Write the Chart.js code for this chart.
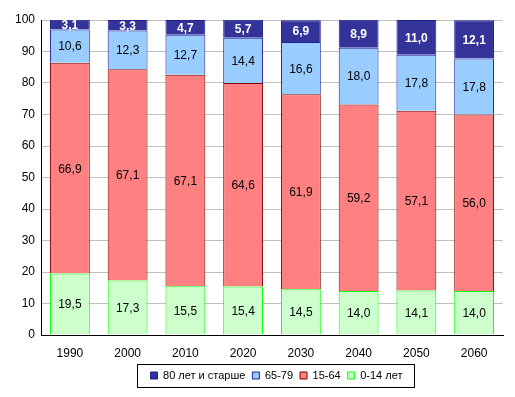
<!DOCTYPE html>
<html lang="ru">
<head>
    <meta charset="UTF-8">
    <title>Возрастная структура</title>
    <style>
        html, body { margin: 0; padding: 0; background: #fff; }
        .chart-box { width: 515px; height: 397px; }
    </style>
</head>
<body>
    <div class="chart-box">
        <canvas id="ageChart"></canvas>
    </div>

    <script src="https://cdn.jsdelivr.net/npm/chart.js"></script>
    <script>
        // Годы
        const years = ['1990', '2000', '2010', '2020', '2030', '2040', '2050', '2060'];

        // Доли возрастных групп, %
        const age0_14 = [19.5, 17.3, 15.5, 15.4, 14.5, 14.0, 14.1, 14.0];
        const age15_64 = [66.9, 67.1, 67.1, 64.6, 61.9, 59.2, 57.1, 56.0];
        const age65_79 = [10.6, 12.3, 12.7, 14.4, 16.6, 18.0, 17.8, 17.8];
        const age80plus = [3.1, 3.3, 4.7, 5.7, 6.9, 8.9, 11.0, 12.1];

        const yTicks = [0, 10, 20, 30, 40, 50, 60, 70, 80, 90, 100];

        const fontFamily = '"Liberation Sans", Arial, sans-serif';

        // Подписи значений в центре каждого сегмента
        const valueLabels = {
            id: 'valueLabels',
            afterDatasetsDraw(chart) {
                const ctx = chart.ctx;
                ctx.save();
                ctx.textAlign = 'center';
                ctx.textBaseline = 'middle';
                chart.data.datasets.forEach((ds, i) => {
                    const meta = chart.getDatasetMeta(i);
                    meta.data.forEach((bar, j) => {
                        const p = bar.getCenterPoint();
                        const top = ds.label === '80 лет и старше';
                        ctx.font = (top ? 'bold ' : '') + '12px ' + fontFamily;
                        ctx.fillStyle = top ? '#ffffff' : '#000000';
                        ctx.fillText(ds.data[j].toFixed(1).replace('.', ','), p.x, p.y + 1);
                    });
                });
                ctx.restore();
            }
        };

        // Легенда смещена вправо и обведена рамкой, как в Excel
        const legendBox = {
            id: 'legendBox',
            afterLayout(chart) {
                chart.legend.left += 25;
                chart.legend.right += 25;
            },
            afterDraw(chart) {
                const boxes = chart.legend.legendHitBoxes;
                if (!boxes || !boxes.length) return;
                const left = Math.min(...boxes.map(b => b.left));
                const right = Math.max(...boxes.map(b => b.left + b.width));
                const cy = boxes[0].top + boxes[0].height / 2;
                const ctx = chart.ctx;
                ctx.save();
                ctx.strokeStyle = '#000';
                ctx.lineWidth = 1;
                ctx.strokeRect(Math.round(left - 14) + 0.5, Math.round(cy - 12) + 0.5,
                    Math.round(right - left + 25), 23);
                ctx.restore();
            }
        };

        const ageChart = new Chart(document.getElementById('ageChart'), {
            type: 'bar',
            data: {
                labels: years,
                datasets: [{
                    label: '0-14 лет',
                    data: age0_14,
                    backgroundColor: '#ccffcc',
                    borderColor: '#00ff00',
                    borderWidth: 1
                }, {
                    label: '15-64',
                    data: age15_64,
                    backgroundColor: '#ff8080',
                    borderColor: '#800000',
                    borderWidth: 1
                }, {
                    label: '65-79',
                    data: age65_79,
                    backgroundColor: '#99ccff',
                    borderColor: '#1f1f9f',
                    borderWidth: 1
                }, {
                    label: '80 лет и старше',
                    data: age80plus,
                    backgroundColor: '#333399',
                    borderColor: '#1f1f8f',
                    borderWidth: 1
                }]
            },
            options: {
                responsive: true,
                maintainAspectRatio: false,
                animation: false,
                layout: { padding: { top: 20, right: 12, bottom: 6, left: 0 } },
                datasets: {
                    bar: { categoryPercentage: 1, barPercentage: 0.69 }
                },
                scales: {
                    x: {
                        stacked: true,
                        grid: { display: false, drawTicks: false },
                        border: { color: '#000', width: 1 },
                        ticks: { color: '#000', padding: 11, font: { family: fontFamily, size: 12 } },
                        afterFit(scale) { scale.height = 28; }
                    },
                    y: {
                        stacked: true,
                        min: 0,
                        max: 100,
                        afterBuildTicks(scale) { scale.ticks = yTicks.map(v => ({ value: v })); },
                        grid: { color: '#c0c0c0', drawTicks: false },
                        border: { color: '#000', width: 1 },
                        ticks: { color: '#000', padding: 6, font: { family: fontFamily, size: 12 } },
                        afterFit(scale) { scale.width = 41; }
                    }
                },
                plugins: {
                    legend: {
                        position: 'bottom',
                        reverse: true,
                        labels: {
                            boxWidth: 7,
                            boxHeight: 7,
                            padding: 7,
                            color: '#000',
                            font: { family: fontFamily, size: 11 }
                        }
                    },
                    tooltip: { enabled: false }
                }
            },
            plugins: [valueLabels, legendBox]
        });
    </script>
</body>
</html>
